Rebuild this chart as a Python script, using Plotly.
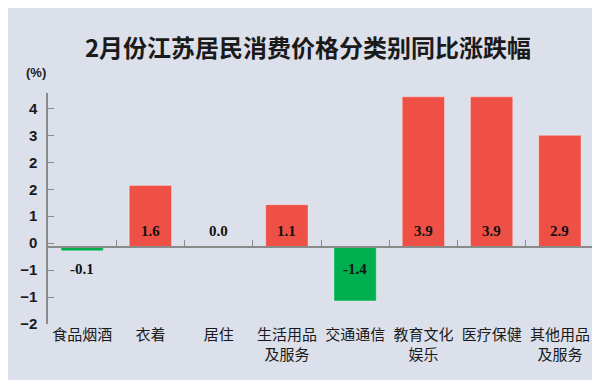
import plotly.graph_objects as go

categories = ["食品烟酒", "衣着", "居住", "生活用品<br>及服务", "交通通信", "教育文化<br>娱乐", "医疗保健", "其他用品<br>及服务"]
values = [-0.1, 1.6, 0.0, 1.1, -1.4, 3.9, 3.9, 2.9]
ytick_vals = [-2 + 0.7 * k for k in range(9)]
ytick_text = ["−2", "−1", "−1", "0", "1", "2", "2", "3", "4"]
boundary_ticks = [0.5, 1.5, 2.5, 3.5, 4.5, 5.5, 6.5, 7.5]

RED = "#EE5045"
GREEN = "#00B050"
BG = "#DCE0EB"
AXIS = "#8A8A8A"

colors = [RED if v >= 0 else GREEN for v in values]
line_colors = ["rgba(255,255,255,0.35)" if v != 0 else RED for v in values]
line_widths = [1 if v != 0 else 2 for v in values]

fig = go.Figure()
fig.add_trace(go.Bar(
    x=categories, y=values,
    marker=dict(color=colors, line=dict(color=line_colors, width=line_widths)),
    width=0.62, hoverinfo="skip", showlegend=False,
))
fig.add_trace(go.Scatter(x=[], y=[], xaxis="x2", yaxis="y", showlegend=False))

for c, v in zip(categories, values):
    if v >= 0:
        fig.add_annotation(x=c, y=0, text=f"{v:.1f}", showarrow=False, yanchor="bottom", yshift=6,
                           font=dict(family="Liberation Serif", size=15, color="#111", weight="bold"))
    else:
        fig.add_annotation(x=c, y=0, text=f"{v:.1f}", showarrow=False, yanchor="top", yshift=-12,
                           font=dict(family="Liberation Serif", size=15, color="#111", weight="bold"))

fig.add_annotation(xref="paper", yref="paper", x=-0.022, y=1.09, text="(%)", showarrow=False,
                   xanchor="center", yanchor="middle",
                   font=dict(family="Liberation Sans", size=13, color="#222", weight="bold"))

fig.update_layout(
    width=600, height=380,
    paper_bgcolor=BG, plot_bgcolor=BG,
    margin=dict(l=40, r=14, t=85, b=64),
    title=dict(text="2月份江苏居民消费价格分类别同比涨跌幅", x=0.5, xanchor="center",
               yref="container", y=1 - 41 / 380, yanchor="middle",
               font=dict(family="Noto Sans CJK SC", size=24, color="#1a1a1a", weight="bold")),
    xaxis=dict(type="category", showline=False, ticks="", showgrid=False, zeroline=False,
               tickfont=dict(family="Noto Sans CJK SC", size=15, color="#1a1a1a"),
               range=[-0.5, 7.5]),
    xaxis2=dict(type="linear", overlaying="x", anchor="free", position=1/3, range=[-0.5, 7.5],
                showline=True, linecolor=AXIS, linewidth=1.5, ticks="inside", ticklen=6,
                tickcolor=AXIS, tickwidth=1, tickvals=boundary_ticks, showticklabels=False,
                showgrid=False, zeroline=False),
    yaxis=dict(range=[-2, 4], tickvals=ytick_vals, ticktext=ytick_text, showline=True,
               linecolor=AXIS, linewidth=1.5, ticks="inside", ticklen=6, tickcolor=AXIS,
               showgrid=False, zeroline=False, ticklabelstandoff=6,
               tickfont=dict(family="Liberation Sans", size=15, color="#1a1a1a", weight="bold")),
)

fig.write_html("out.html")
